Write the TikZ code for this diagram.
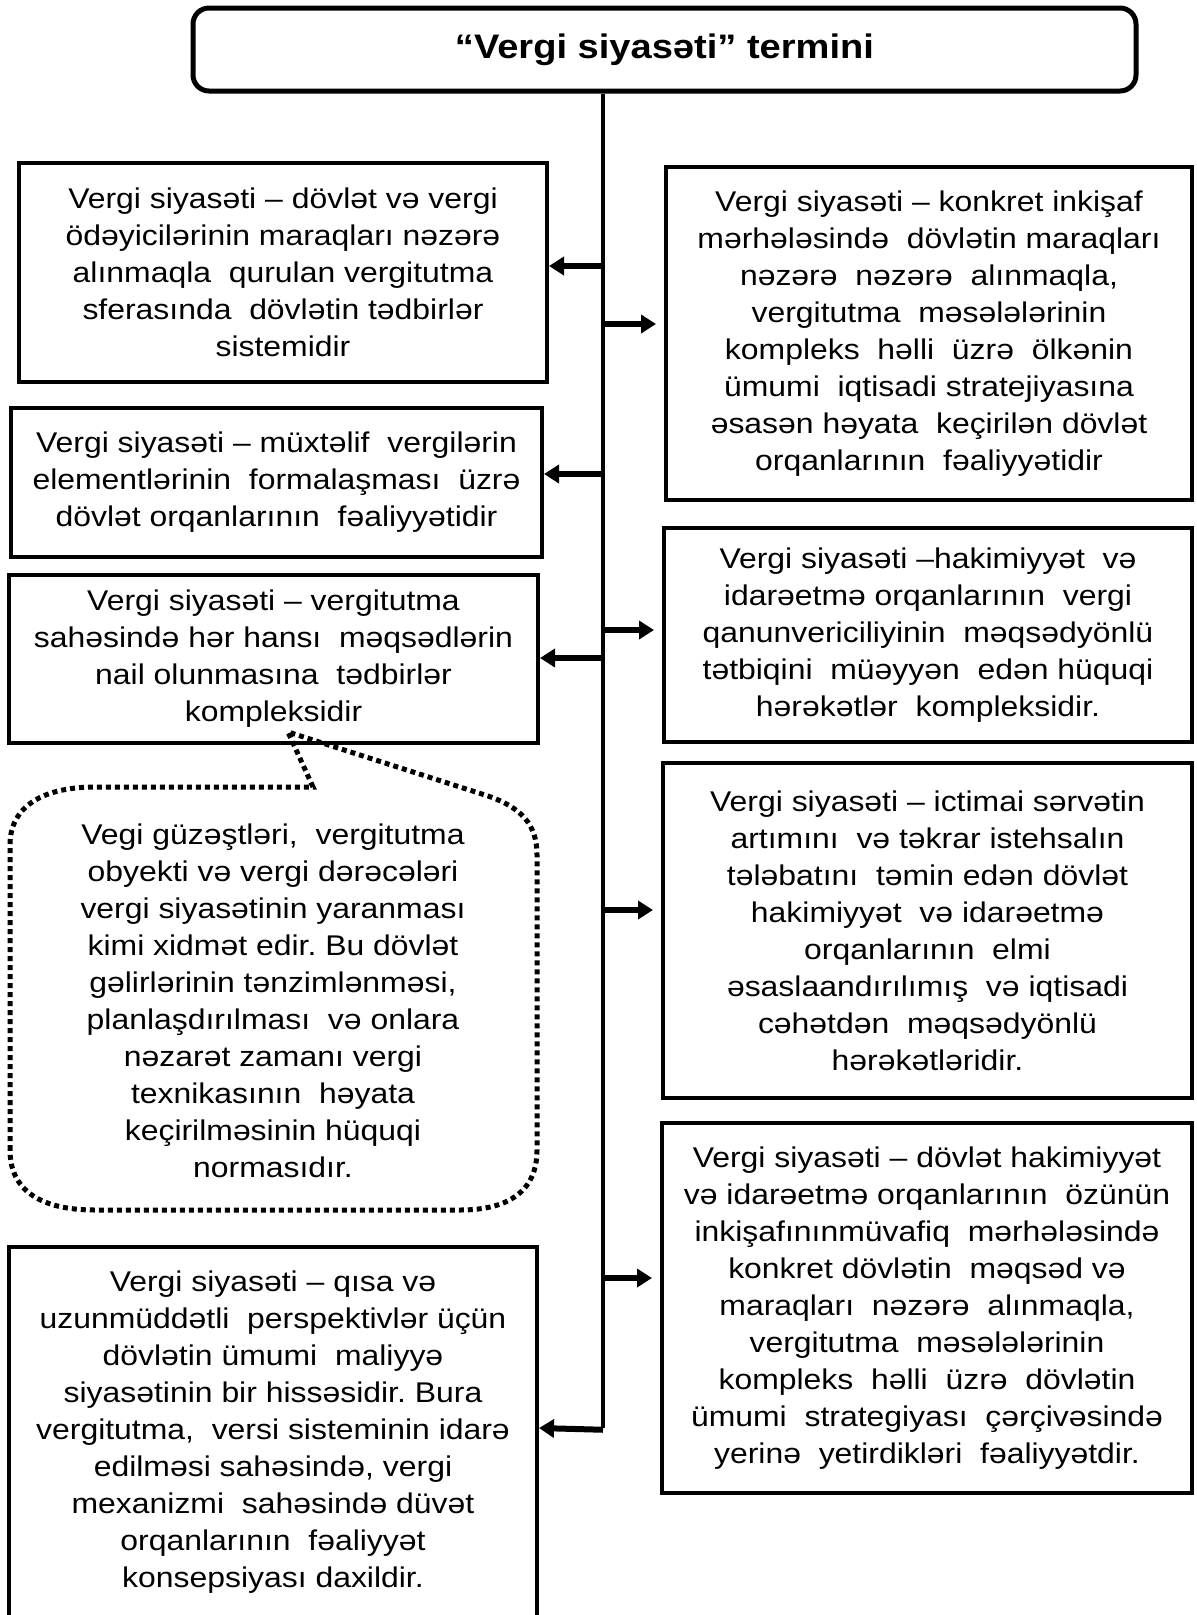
\documentclass[tikz,border=0pt]{standalone}
\usepackage{fontspec}
\setmainfont{Liberation Sans}[FakeStretch=1.12]
\usetikzlibrary{arrows.meta}
\frenchspacing
\begin{document}
\begin{tikzpicture}[x=1pt,y=-1pt,
  box/.style={draw, line width=4pt, align=center, inner sep=0pt,
    font=\fontsize{28.5}{37}\selectfont},
  titlebox/.style={draw, line width=5pt, rounded corners=16pt, inner sep=0pt,
    font=\bfseries\fontsize{34}{40}\selectfont},
  notetext/.style={align=center, inner sep=0pt, font=\fontsize{28.5}{37}\selectfont},
  trunkline/.style={line width=3.5pt},
  larr/.style={line width=6pt, -{Triangle[length=15pt,width=18pt]}},
  rarr/.style={line width=6pt, -{Triangle[length=15pt,width=18pt]}, shorten >=8pt},
  dotline/.style={line width=5pt, dash pattern=on 5pt off 4pt}
]
\useasboundingbox (0,0) rectangle (1197,1615);

% heading
\node[titlebox, minimum width=943pt, minimum height=83pt] (title) at (664.5,49.5)
  {“Vergi siyasəti” termini};

% left column
\node[box, minimum width=528pt, minimum height=219pt] (L1) at (283,272.5)
  {Vergi siyasəti – dövlət və vergi\\
   ödəyicilərinin maraqları nəzərə\\
   alınmaqla\ \ qurulan vergitutma\\
   sferasında\ \ dövlətin tədbirlər\\
   sistemidir};
\node[box, minimum width=531pt, minimum height=149pt] (L2) at (276.5,482.5)
  {Vergi siyasəti – müxtəlif\ \ vergilərin\\
   elementlərinin\ \ formalaşması\ \ üzrə\\
   dövlət orqanlarının\ \ fəaliyyətidir};
\node[box, minimum width=529pt, minimum height=168pt] (L3) at (273.5,659)
  {Vergi siyasəti – vergitutma\\
   sahəsində hər hansı\ \ məqsədlərin\\
   nail olunmasına\ \ tədbirlər\\
   kompleksidir};
\node[box, minimum width=528pt, minimum height=370pt] (L4) at (273,1432)
  {Vergi siyasəti – qısa və\\
   uzunmüddətli\ \ perspektivlər üçün\\
   dövlətin ümumi\ \ maliyyə\\
   siyasətinin bir hissəsidir. Bura\\
   vergitutma,\ \ versi sisteminin idarə\\
   edilməsi sahəsində, vergi\\
   mexanizmi\ \ sahəsində düvət\\
   orqanlarının\ \ fəaliyyət\\
   konsepsiyası daxildir.};

% right column
\node[box, minimum width=526pt, minimum height=333pt] (R1) at (929,333.5)
  {Vergi siyasəti – konkret inkişaf\\
   mərhələsində\ \ dövlətin maraqları\\
   nəzərə\ \ nəzərə\ \ alınmaqla,\\
   vergitutma\ \ məsələlərinin\\
   kompleks\ \ həlli\ \ üzrə\ \ ölkənin\\
   ümumi\ \ iqtisadi stratejiyasına\\
   əsasən həyata\ \ keçirilən dövlət\\
   orqanlarının\ \ fəaliyyətidir};
\node[box, minimum width=528pt, minimum height=214pt] (R2) at (928,635)
  {Vergi siyasəti –hakimiyyət\ \ və\\
   idarəetmə orqanlarının\ \ vergi\\
   qanunvericiliyinin\ \ məqsədyönlü\\
   tətbiqini\ \ müəyyən\ \ edən hüquqi\\
   hərəkətlər\ \ kompleksidir.};
\node[box, minimum width=529pt, minimum height=335pt] (R3) at (927.5,930.5)
  {Vergi siyasəti – ictimai sərvətin\\
   artımını\ \ və təkrar istehsalın\\
   tələbatını\ \ təmin edən dövlət\\
   hakimiyyət\ \ və idarəetmə\\
   orqanlarının\ \ elmi\\
   əsaslaandırılımış\ \ və iqtisadi\\
   cəhətdən\ \ məqsədyönlü\\
   hərəkətləridir.};
\node[box, minimum width=530pt, minimum height=370pt] (R4) at (927,1308)
  {Vergi siyasəti – dövlət hakimiyyət\\
   və idarəetmə orqanlarının\ \ özünün\\
   inkişafınınmüvafiq\ \ mərhələsində\\
   konkret dövlətin\ \ məqsəd və\\
   maraqları\ \ nəzərə\ \ alınmaqla,\\
   vergitutma\ \ məsələlərinin\\
   kompleks\ \ həlli\ \ üzrə\ \ dövlətin\\
   ümumi\ \ strategiyası\ \ çərçivəsində\\
   yerinə\ \ yetirdikləri\ \ fəaliyyətdir.};

% branch points on the trunk
\coordinate (t1) at (603,266);
\coordinate (t2) at (603,324);
\coordinate (t3) at (603,474);
\coordinate (t4) at (603,630);
\coordinate (t5) at (603,658);
\coordinate (t6) at (603,910);
\coordinate (t7) at (603,1278);
\coordinate (t8) at (603,1428);

% trunk and branches
\draw[trunkline] (title.south -| t1) -- (t8);
\draw[larr] (t1) -- (t1 -| L1.east);
\draw[rarr] (t2) -- (t2 -| R1.west);
\draw[larr] (t3) -- (t3 -| L2.east);
\draw[rarr] (t4) -- (t4 -| R2.west);
\draw[larr] (t5) -- (t5 -| L3.east);
\draw[rarr] (t6) -- (t6 -| R3.west);
\draw[rarr] (t7) -- (t7 -| R4.west);
\draw[larr] ([yshift=-1.75pt]t8) -- (t8 -| L4.east);

% callout with its pointer
\coordinate (tip) at (288,732);
\draw[dotline] (10,1150) -- (10,845)
  .. controls (10,805) and (45,787) .. (95,787) -- (313,787) -- (tip)
  -- (485,795) .. controls (522,807) and (537,825) .. (537,855)
  -- (537,1150) .. controls (537,1190) and (510,1210) .. (460,1210)
  -- (95,1210) .. controls (40,1210) and (10,1190) .. (10,1150) -- cycle;
\node[notetext] (note) at (273,1001)
  {Vegi güzəştləri,\ \ vergitutma\\
   obyekti və vergi dərəcələri\\
   vergi siyasətinin yaranması\\
   kimi xidmət edir. Bu dövlət\\
   gəlirlərinin tənzimlənməsi,\\
   planlaşdırılması\ \ və onlara\\
   nəzarət zamanı vergi\\
   texnikasının\ \ həyata\\
   keçirilməsinin hüquqi\\
   normasıdır.};
\end{tikzpicture}
\end{document}
